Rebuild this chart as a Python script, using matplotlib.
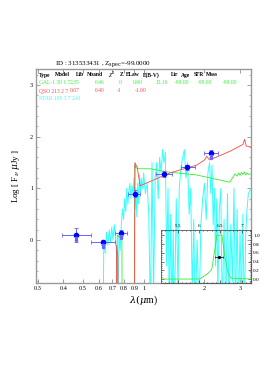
import matplotlib
matplotlib.use('Agg')
import matplotlib.pyplot as plt
from matplotlib.ticker import FixedLocator, NullFormatter, MultipleLocator

plt.rcParams['font.family'] = ['Liberation Serif', 'DejaVu Serif']
plt.rcParams['mathtext.fontset'] = 'dejavuserif'

# photometry (um, log flux)
phot_wl = [0.462, 0.630, 0.776, 0.907, 1.26, 1.64, 2.15]
phot_wl_lo = [0.394, 0.548, 0.720, 0.840, 1.15, 1.53, 1.98]
phot_wl_hi = [0.548, 0.720, 0.830, 0.960, 1.38, 1.79, 2.34]
phot_logf = [0.10, -0.04, 0.14, 0.90, 1.28, 1.41, 1.68]
phot_err = [0.13, 0.05, 0.06, 0.06, 0.05, 0.05, 0.07]
phot_limit = [True, True, True, False, False, False, True]

# GAL-1 template
gal_wl = [0.30, 0.735, 0.740, 0.760, 0.780, 0.785, 0.900, 0.905, 0.910, 0.960,
          1.08, 1.30, 1.83, 2.67, 2.75, 2.83, 2.90, 2.95, 3.00, 3.05, 3.10,
          3.15, 3.20, 3.25, 3.30, 3.40]
gal_logf = [-3.0, -3.0, 0.10, 0.05, 0.12, -3.0, -3.0, 1.45, 1.40, 1.38,
            1.38, 1.32, 1.26, 1.12, 1.20, 1.28, 1.24, 1.30, 1.25, 1.31, 1.27,
            1.32, 1.26, 1.30, 1.27, 1.28]

# QSO template
qso_wl = [0.30, 0.725, 0.735, 0.745, 0.750, 0.895, 0.905, 0.930, 0.960, 1.00,
          1.10, 1.35, 1.83, 2.00, 2.05, 2.12, 2.68, 3.10, 3.16, 3.22, 3.40]
qso_logf = [-3.0, -3.0, -0.10, -0.35, -3.0, -3.0, 1.50, 1.40, 1.05, 1.08,
            1.15, 1.30, 1.45, 1.55, 1.62, 1.55, 1.72, 1.85, 1.95, 1.82, 1.80]

# STAR template
star_wl = [0.630, 0.635, 0.645, 0.655, 0.665, 0.675, 0.685, 0.695, 0.705, 0.715,
           0.725, 0.735, 0.745, 0.755, 0.765, 0.775, 0.785, 0.795, 0.805, 0.815,
           0.825, 0.835, 0.845, 0.855, 0.865, 0.875, 0.885, 0.895, 0.905, 0.915,
           0.925, 0.935, 0.945, 0.955, 0.965, 0.975, 0.990, 1.00, 1.02, 1.04,
           1.06, 1.08, 1.10, 1.12, 1.14, 1.16, 1.18, 1.20, 1.22, 1.24,
           1.26, 1.28, 1.30, 1.32, 1.34, 1.36, 1.38, 1.40, 1.42, 1.45,
           1.48, 1.50, 1.53, 1.56, 1.59, 1.62, 1.65, 1.68, 1.71, 1.74,
           1.77, 1.80, 1.84, 1.88, 1.92, 1.96, 2.00, 2.04, 2.08, 2.12,
           2.15, 2.18, 2.21, 2.24, 2.27, 2.30, 2.33, 2.37, 2.41, 2.45,
           2.50, 2.55, 2.60, 2.65, 2.70, 2.75, 2.80, 2.85, 2.90, 2.95,
           3.00, 3.05, 3.10, 3.15, 3.20, 3.25, 3.30, 3.40]
star_logf = [-1.5, 0.0, -0.25, 0.15, -0.10, 0.20, -0.05, 0.25, 0.0, 0.30,
             0.05, -0.30, -1.5, 0.10, -0.20, 0.30, 0.60, 0.40, 0.80, 0.55,
             1.00, 0.70, 0.95, 1.10, 0.80, 1.05, 0.90, 1.20, 0.60, 1.00,
             0.45, 1.10, 0.70, 1.25, 0.90, 1.20, 1.00, 1.30, 0.90, 1.10,
             0.50, -1.5, 1.50, -1.0, 1.20, 1.50, 0.80, 1.60, 1.30, 1.75,
             1.50, 1.70, -0.5, 1.00, -1.5, 0.50, -1.5, 0.20, -1.5, 0.80,
             -1.0, 1.00, 1.40, 1.60, 1.75, 1.20, 1.50, 0.50, 1.00, -1.0,
             0.40, -1.5, 0.00, -1.5, 0.30, 0.80, 1.10, 0.40, 1.30, 1.50,
             0.90, 1.45, 0.30, 1.00, -0.5, 0.80, -1.0, 0.60, 1.00, -1.5,
             0.40, -1.5, 0.90, -1.5, 0.30, -0.8, 1.00, -1.5, 0.60, -1.5,
             0.20, -1.2, 0.50, -1.5, 0.10, 0.60, 0.90, 1.00]

# redshift PDF
pdf_z = [5.10, 5.50, 6.00, 6.05, 6.20, 6.30, 6.36, 6.42, 6.54, 6.60, 6.68, 6.75, 7.25]
pdf_p = [0.0, 0.0, 0.0, 0.02, 0.12, 0.22, 0.60, 1.00, 1.00, 0.55, 0.15, 0.02, 0.0]
zphot, zphot_lo, zphot_hi, zphot_y = 6.47, 6.38, 6.56, 0.5

xticks = [0.3, 0.4, 0.5, 0.6, 0.7, 0.8, 0.9, 1, 2, 3]
xticklabels = ['0.3', '0.4', '0.5', '0.6', '0.7', '0.8', '0.9', '1', '2', '3']

header = [('Type', 39), ('Model', 55), ('Lib', 76), ('Nband', 87), (r'$\chi^2$', 108),
          ('Z', 120), ('ELaw', 126), ('E(B-V)', 143), ('Lir', 171), ('Age', 181),
          ('SFR', 194), ('Mass', 206)]
gal_row = [('GAL-1 30 1 7', 39), ('2.35', 70), ('6.46', 95), ('0', 119), ('0.00', 133),
           ('13.16', 155), ('-99.00', 175), ('-99.00', 198), ('-99.00', 223)]
qso_row = [('QSO 213 2 7', 39), ('0.07', 70), ('6.40', 95), ('-1', 117), ('-1.00', 135)]
star_row = [('STAR 165 3 7', 39), ('2.41', 72)]

W, H = 266, 376
fig = plt.figure(figsize=(W / 100, H / 100), dpi=100)
ax = fig.add_axes([36 / W, 93 / H, 215 / W, 214 / H])

ax.plot(star_wl, star_logf, color='#33ffff', lw=0.7, zorder=2)
ax.plot(gal_wl, gal_logf, color='#33ee33', lw=0.6, zorder=3)
ax.plot(qso_wl, qso_logf, color='#ff4444', lw=0.6, zorder=3)

xerr = [[w - lo for w, lo in zip(phot_wl, phot_wl_lo)],
        [hi - w for w, hi in zip(phot_wl, phot_wl_hi)]]
ax.errorbar(phot_wl, phot_logf, xerr=xerr, yerr=phot_err, fmt='none',
            ecolor='#6666ff', elinewidth=0.7, capsize=1.2, capthick=0.6, zorder=4)
ax.plot(phot_wl, phot_logf, 'o', color='#0000ff', ms=3, zorder=5)
lim_wl = [w for w, l in zip(phot_wl, phot_limit) if l]
lim_f = [f - 0.08 for f, l in zip(phot_logf, phot_limit) if l]
ax.plot(lim_wl, lim_f, linestyle='none', marker=r'$\Downarrow$', color='#6666ff',
        ms=3, zorder=5)

ax.set_xscale('log')
ax.set_xlim(0.293, 3.4)
ax.set_ylim(-0.83, 3.31)
ax.xaxis.set_major_locator(FixedLocator(xticks))
ax.set_xticklabels(xticklabels)
ax.xaxis.set_minor_formatter(NullFormatter())
ax.xaxis.set_minor_locator(FixedLocator([]))
ax.yaxis.set_major_locator(MultipleLocator(1))
ax.yaxis.set_minor_locator(MultipleLocator(0.2))
ax.tick_params(which='both', direction='in', top=True, right=True,
               labelsize=4.5, color='#777777', pad=2)
ax.tick_params(which='major', length=3, width=0.5)
ax.tick_params(which='minor', length=1.5, width=0.4)
for s in ax.spines.values():
    s.set_color('#999999')
    s.set_linewidth(1.0)
ax.set_xlabel(r'$\lambda(\mu$m)', fontsize=7, labelpad=2)
ax.set_ylabel(r'Log [ F$_\nu$ $\mu$Jy ]', fontsize=6.5, labelpad=6)
fig.text(55 / W, 1 - 64 / H, r'ID : 313533431 , Z$_{\rm spec}$=-99.0000',
         fontsize=5, va='center', ha='left')


def put_row(items, py, color, weight='normal'):
    for txt, px in items:
        ax.text((px - 36) / 215, (283 - py) / 214, txt, transform=ax.transAxes,
                fontsize=4.0, color=color, fontweight=weight, va='center', ha='left')


put_row(header, 75, 'black', 'bold')
put_row(gal_row, 83, '#33ee33')
put_row(qso_row, 91, '#ff4444')
put_row(star_row, 99, '#33ffff')

# inset: redshift PDF
ins = fig.add_axes([161 / W, 93 / H, 90 / W, 53 / H])
ins.patch.set_alpha(0)
ins.plot(pdf_z, pdf_p, color='#33ee33', lw=0.6)
ins.errorbar([zphot], [zphot_y], xerr=[[zphot - zphot_lo], [zphot_hi - zphot]],
             fmt='o', color='black', ms=1.3, elinewidth=0.5, capsize=1, capthick=0.4)
ins.set_xlim(5.11, 7.22)
ins.set_ylim(-0.09, 1.12)
ins.xaxis.set_major_locator(FixedLocator([5.5, 6, 6.5, 7]))
ins.xaxis.set_minor_locator(MultipleLocator(0.1))
ins.yaxis.set_major_locator(MultipleLocator(0.2))
ins.yaxis.set_minor_locator(MultipleLocator(0.05))
ins.tick_params(which='both', direction='in', top=True, right=True, bottom=True,
                left=True, labeltop=True, labelbottom=False, labelright=True,
                labelleft=False, labelsize=3.8, pad=1.5, width=0.4)
ins.tick_params(which='major', length=2)
ins.tick_params(which='minor', length=1)
ins.set_xticklabels(['5.5', '6', '6.5', '7'])
for s in ins.spines.values():
    s.set_color('#555555')
    s.set_linewidth(0.6)

fig.savefig('out.png', dpi=100)
